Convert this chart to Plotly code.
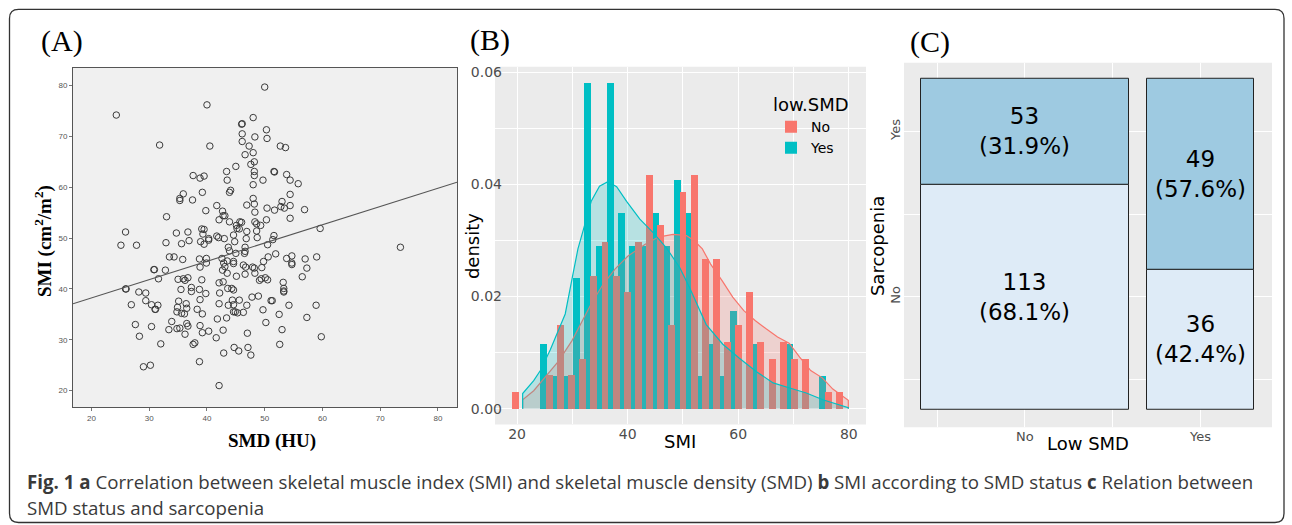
import numpy as np
import plotly.graph_objects as go

W, H = 1292, 525


def fx(p):
    return p / W


def fy(p):
    return 1 - p / H


# ---------------- Panel A : SMD vs SMI scatter ----------------
smd = [24.3, 50.0, 40.0, 46.0, 46.1, 48.0, 50.3, 46.1, 48.3, 50.4, 46.1, 47.3, 31.8, 40.5, 52.7, 53.6,
       48.0, 46.6, 47.6, 48.2, 45.0, 43.4, 51.6, 51.7, 48.2, 48.2, 37.6, 39.5, 38.8, 43.5, 49.7, 53.8,
       54.4, 55.8, 48.0, 44.1, 43.9, 39.2, 35.9, 35.3, 35.3, 37.5, 48.0, 54.4, 53.0, 48.2, 46.9, 41.7,
       54.4, 52.8, 50.4, 51.7, 53.4, 56.9, 39.8, 42.7, 48.3, 42.8, 43.1, 33.0, 54.4, 42.1, 43.9, 50.3,
       45.7, 46.0, 48.3, 48.6, 45.1, 45.2, 45.6, 39.1, 39.5, 49.3, 25.9, 36.7, 46.9, 48.6, 34.7, 59.6,
       39.3, 41.7, 44.6, 51.6, 40.3, 42.0, 43.0, 48.7, 46.8, 51.4, 36.9, 40.3, 38.9, 44.8, 25.1, 27.8,
       32.9, 35.6, 39.5, 50.5, 43.7, 46.6, 73.5, 43.9, 46.6, 45.0, 46.5, 51.9, 33.5, 34.3, 42.6, 50.6,
       54.7, 59.0, 35.8, 38.7, 39.9, 53.8, 57.0, 43.5, 44.6, 49.8, 42.9, 39.9, 54.7, 54.7, 38.8, 44.6,
       30.8, 30.9, 32.8, 46.3, 46.7, 47.9, 48.2, 49.5, 57.3, 42.7, 43.1, 43.5, 48.3, 46.6, 45.1, 31.6,
       35.0, 35.9, 36.7, 36.2, 39.1, 49.1, 49.4, 50.1, 50.5, 56.5, 53.2, 42.1, 42.8, 25.9, 26.0, 35.5,
       37.3, 38.7, 43.6, 44.3, 44.6, 53.3, 53.3, 28.2, 29.4, 37.3, 39.8, 42.2, 53.3, 38.8, 29.4, 35.1,
       44.4, 45.6, 47.8, 48.9, 51.1, 51.3, 26.9, 30.4, 31.5, 31.0, 31.1, 34.9, 36.4, 42.1, 43.7, 44.6,
       46.9, 54.2, 58.9, 36.5, 38.3, 49.7, 34.8, 35.6, 36.1, 39.2, 44.6, 44.9, 45.3, 46.3, 52.5, 57.3,
       41.8, 43.4, 33.9, 50.2, 27.6, 36.5, 36.7, 38.8, 30.4, 33.4, 34.8, 35.3, 53.0, 42.8, 39.2, 40.3,
       47.0, 36.2, 28.3, 59.8, 41.6, 32.0, 37.6, 37.9, 52.6, 44.7, 47.1, 45.5, 42.9, 47.6, 38.7, 29.0,
       30.2, 42.1]
smi = [74.2, 79.7, 76.2, 72.4, 72.5, 73.7, 71.3, 70.5, 69.9, 69.6, 69.0, 68.1, 68.3, 68.1, 68.1, 67.8,
       66.8, 66.4, 64.5, 65.0, 64.1, 63.1, 63.1, 63.0, 63.1, 62.3, 62.3, 62.2, 61.8, 61.4, 61.4, 62.5,
       61.4, 60.7, 60.5, 59.4, 59.0, 59.0, 58.7, 57.8, 57.4, 57.5, 57.8, 58.6, 57.2, 56.7, 56.5, 56.4,
       56.4, 56.2, 55.9, 55.5, 55.9, 55.6, 55.4, 55.3, 55.1, 54.4, 54.4, 54.2, 53.9, 53.6, 53.2, 53.6,
       53.2, 53.1, 53.2, 52.8, 52.5, 51.9, 51.8, 51.8, 51.7, 52.5, 51.2, 51.2, 51.3, 51.4, 51.0, 51.9,
       50.8, 50.4, 50.6, 50.5, 49.9, 50.1, 49.9, 50.1, 49.9, 49.7, 49.5, 49.6, 49.3, 49.3, 48.6, 48.6,
       49.1, 48.9, 48.8, 48.7, 48.2, 48.2, 48.2, 47.5, 47.4, 47.0, 47.0, 46.9, 46.3, 46.3, 46.0, 46.3,
       46.5, 46.3, 45.8, 45.9, 46.0, 46.0, 45.9, 45.5, 45.4, 45.4, 45.1, 45.1, 45.1, 44.8, 44.3, 45.0,
       43.8, 43.8, 43.7, 44.7, 44.3, 44.3, 44.1, 44.2, 44.1, 43.7, 44.4, 43.1, 43.1, 42.9, 42.5, 42.0,
       41.9, 42.0, 42.2, 41.7, 41.8, 41.7, 42.0, 42.2, 41.8, 42.4, 41.3, 41.2, 41.4, 40.0, 40.0, 39.9,
       40.3, 39.9, 40.1, 40.1, 39.8, 40.1, 39.6, 39.4, 39.2, 39.5, 39.1, 39.2, 39.4, 37.9, 37.7, 37.6,
       37.8, 37.8, 38.4, 38.6, 37.7, 37.7, 36.9, 36.9, 36.8, 36.0, 36.0, 36.4, 37.1, 37.1, 36.8, 36.9,
       36.8, 36.8, 36.8, 36.2, 36.0, 35.9, 35.5, 35.2, 35.1, 35.1, 35.5, 35.5, 35.3, 35.4, 35.0, 34.4,
       34.1, 34.3, 33.6, 33.4, 33.0, 33.2, 32.7, 32.8, 32.6, 32.0, 32.2, 32.3, 32.0, 31.9, 31.4, 31.7,
       31.3, 31.1, 30.7, 30.6, 30.4, 29.2, 29.1, 29.4, 29.1, 28.5, 28.5, 27.8, 27.4, 27.0, 25.7, 24.7,
       25.0, 21.0]
reg_intercept = 31.06
reg_slope = 0.3594
a_xticks = [20, 30, 40, 50, 60, 70, 80]
a_yticks = [20, 30, 40, 50, 60, 70, 80]

# ---------------- Panel B : SMI histogram / density by low SMD ----------------
bin_centers = [19.2, 21.2, 23.2, 25.3, 27.3, 29.3, 31.3, 33.3, 35.4, 37.4, 39.4, 41.4, 43.4, 45.5, 47.5,
               49.5, 51.5, 53.5, 55.6, 57.6, 59.6, 61.6, 63.6, 65.7, 67.7, 69.7, 71.7, 73.7, 75.8, 77.8]
dens_no = [0.0030, 0, 0, 0.0060, 0.0149, 0.0060, 0.0089, 0.0238, 0.0298, 0.0238, 0.0209, 0.0298, 0.0417,
           0.0328, 0.0149, 0.0387, 0.0417, 0.0268, 0.0268, 0.0119, 0.0149, 0.0209, 0.0119, 0.0089, 0.0119,
           0.0089, 0.0089, 0, 0.0030, 0.0030]
dens_yes = [0, 0, 0, 0.0116, 0.0058, 0.0058, 0.0233, 0.0582, 0.0291, 0.0582, 0.0349, 0.0291, 0.0291,
            0.0349, 0.0291, 0.0408, 0.0349, 0.0058, 0.0116, 0.0058, 0.0175, 0, 0.0116, 0, 0, 0.0116, 0, 0,
            0.0058, 0]
kde_no_x = [21.0, 23.0, 25.0, 27.5, 29.9, 31.7, 33.5, 35.5, 37.7, 40.0, 43.1, 45.5, 48.2, 50.6, 52.0,
            53.5, 55.0, 57.1, 59.0, 61.0, 63.1, 65.1, 67.1, 69.2, 71.1, 73.1, 75.2, 77.1, 79.4, 79.9]
kde_no_y = [0.0016, 0.0032, 0.0056, 0.0085, 0.0121, 0.0155, 0.0189, 0.0221, 0.0249, 0.0272, 0.0293,
            0.0306, 0.0311, 0.0309, 0.0300, 0.0285, 0.0258, 0.0228, 0.0199, 0.0175, 0.0157, 0.0142,
            0.0128, 0.0117, 0.0092, 0.0068, 0.0055, 0.0035, 0.0018, 0.0015]
kde_yes_x = [21.0, 23.0, 24.2, 26.0, 27.5, 28.7, 30.0, 31.0, 32.0, 33.4, 34.9, 36.4, 38.0, 39.8, 42.2,
             44.6, 47.0, 49.4, 51.1, 52.6, 54.2, 57.2, 60.2, 63.3, 66.3, 69.3, 72.3, 75.3, 77.5, 79.9]
kde_yes_y = [0.0027, 0.0050, 0.0068, 0.0105, 0.0140, 0.0169, 0.0235, 0.0285, 0.0320, 0.0370, 0.0397,
             0.0405, 0.0396, 0.0370, 0.0338, 0.0314, 0.0287, 0.0252, 0.0218, 0.0185, 0.0150, 0.0115,
             0.0090, 0.0066, 0.0046, 0.0037, 0.0028, 0.0016, 0.0009, 0.0002]
b_xticks = [20, 40, 60, 80]
b_xminor = [30, 50, 70]
b_yticks = [0.00, 0.02, 0.04, 0.06]
b_yminor = [0.01, 0.03, 0.05]

# ---------------- Panel C : mosaic Low SMD x Sarcopenia ----------------
low_smd = ["No", "Yes"]
sarcopenia = ["No", "Yes"]
sarc_no = [113, 36]
sarc_yes = [53, 49]

RED, CYAN = "#F8766D", "#00BFC4"
SANS = "DejaVu Sans"
SERIF = "Liberation Serif"
TICK_GRAY = "#4D4D4D"

fig = go.Figure()

# ---- Panel A traces
fig.add_trace(go.Scatter(
    x=smd, y=smi, mode="markers", xaxis="x", yaxis="y", showlegend=False,
    marker=dict(symbol="circle-open", size=6.5, color="#3A3A3A", line=dict(width=1)),
    hoverinfo="skip"))
A_XR = [16.8, 83.3]
A_YR = [16.7, 83.5]
reg_x = np.array(A_XR)
fig.add_trace(go.Scatter(
    x=reg_x, y=reg_intercept + reg_slope * reg_x, mode="lines", xaxis="x", yaxis="y",
    showlegend=False, line=dict(color="#555555", width=1.1), hoverinfo="skip"))

# ---- Panel B traces
fig.add_trace(go.Bar(
    x=bin_centers, y=dens_yes, width=1.25, offset=-1.125, xaxis="x2", yaxis="y2",
    name="Yes", legendgroup="Yes", legendrank=2, marker=dict(color=CYAN, line=dict(width=0))))
fig.add_trace(go.Bar(
    x=bin_centers, y=dens_no, width=1.25, offset=-0.125, xaxis="x2", yaxis="y2",
    name="No", legendgroup="No", legendrank=1, marker=dict(color=RED, line=dict(width=0))))
for xs, ys, col, fill in [(kde_no_x, kde_no_y, RED, "rgba(248,118,109,0.22)"),
                          (kde_yes_x, kde_yes_y, CYAN, "rgba(0,191,196,0.22)")]:
    fig.add_trace(go.Scatter(
        x=[xs[0]] + list(xs) + [xs[-1]], y=[0] + list(ys) + [0], mode="lines", fill="toself",
        fillcolor=fill, line=dict(color=col, width=1.2), xaxis="x2", yaxis="y2",
        showlegend=False, hoverinfo="skip"))

# ---- Panel C traces (mosaic)
gap = 0.054
col_tot = np.array(sarc_no) + np.array(sarc_yes)
col_w = (1 - gap) * col_tot / col_tot.sum()
col_x0 = np.array([0.0, col_w[0] + gap])
col_c = col_x0 + col_w / 2
p_no = np.array(sarc_no) / col_tot
p_yes = np.array(sarc_yes) / col_tot

fig.add_trace(go.Bar(
    x=col_c, y=p_no, base=0, width=col_w, xaxis="x3", yaxis="y3", showlegend=False,
    marker=dict(color="#DEEBF7", line=dict(color="#222222", width=1)), hoverinfo="skip"))
fig.add_trace(go.Bar(
    x=col_c, y=p_yes, base=p_no, width=col_w, xaxis="x3", yaxis="y3", showlegend=False,
    marker=dict(color="#9ECAE1", line=dict(color="#222222", width=1)), hoverinfo="skip"))

annotations = []
for i in range(2):
    for cnt, p, base in [(sarc_no[i], p_no[i], 0), (sarc_yes[i], p_yes[i], p_no[i])]:
        ymid = base + p / 2
        annotations.append(dict(x=col_c[i], y=ymid, xref="x3", yref="y3",
                                text="%d<br>(%.1f%%)" % (cnt, 100 * p), showarrow=False,
                                align="center", font=dict(family=SANS, size=23, color="black")))

c_xt = list(col_c)
c_xminor = [c_xt[0] - (c_xt[1] - c_xt[0]) / 2, (c_xt[0] + c_xt[1]) / 2]
c_yt = [p_no[0] / 2, p_no[0] + p_yes[0] / 2]
c_yminor = [c_yt[0] - (c_yt[1] - c_yt[0]) / 2, (c_yt[0] + c_yt[1]) / 2]


def txt(x, y, s, size, family=SANS, angle=0, color="black", xanchor="center", weight=None):
    f = dict(family=family, size=size, color=color)
    if weight:
        f["weight"] = weight
    return dict(x=fx(x), y=fy(y), xref="paper", yref="paper", text=s, showarrow=False,
                textangle=angle, xanchor=xanchor, yanchor="middle", font=f)


annotations += [
    txt(62, 39, "(A)", 30, SERIF),
    txt(490, 38, "(B)", 30, SERIF),
    txt(930, 40, "(C)", 30, SERIF),
    txt(272, 441, "<b>SMD (HU)</b>", 19, SERIF),
    txt(43, 240, "<b>SMI (cm<sup>2</sup>/m<sup>2</sup>)</b>", 19, SERIF, angle=-90),
    txt(472, 245, "density", 18, angle=-90),
    txt(680, 441, "SMI", 18),
    txt(877, 245, "Sarcopenia", 18, angle=-90),
    txt(1088, 443, "Low SMD", 18),
    txt(25, 481, "<b>Fig. 1 a</b> Correlation between skeletal muscle index (SMI) and skeletal muscle "
                 "density (SMD) <b>b</b> SMI according to SMD status <b>c</b> Relation between",
        18.7, "Open Sans", color="#3A3A3A", xanchor="left"),
    txt(25, 507, "SMD status and sarcopenia", 18.7, "Open Sans", color="#3A3A3A", xanchor="left"),
]

# background panels and outer frame
r = 9
x0, y0, x1, y1 = 9.5, 7.5, 1284, 522.5
frame = ("M {a},{b} L {c},{b} Q {d},{b} {d},{e} L {d},{f} Q {d},{g} {c},{g} L {a},{g} "
         "Q {h},{g} {h},{f} L {h},{e} Q {h},{b} {a},{b} Z").format(
    a=fx(x0 + r), b=fy(y0), c=fx(x1 - r), d=fx(x1), e=fy(y0 + r), f=fy(y1 - r), g=fy(y1), h=fx(x0))
shapes = [
    dict(type="rect", xref="x domain", yref="y domain", x0=0, x1=1, y0=0, y1=1,
         fillcolor="#F0F0F0", line=dict(width=0), layer="below"),
    dict(type="rect", xref="x2 domain", yref="y2 domain", x0=0, x1=1, y0=0, y1=1,
         fillcolor="#EBEBEB", line=dict(width=0), layer="below"),
    dict(type="rect", xref="x3 domain", yref="y3 domain", x0=0, x1=1, y0=0, y1=1,
         fillcolor="#EBEBEB", line=dict(width=0), layer="below"),
    dict(type="path", xref="paper", yref="paper", path=frame,
         line=dict(color="#333333", width=1.3)),
]

axA = dict(showgrid=False, zeroline=False, showline=True, mirror=True, linecolor="#555555",
           linewidth=1, ticks="outside", ticklen=3, tickcolor="#777777",
           tickfont=dict(family="Liberation Sans", size=8, color="#555555"))
gridB = dict(showgrid=True, gridcolor="white", gridwidth=1.3, zeroline=False, showline=False,
             ticks="", tickfont=dict(family=SANS, size=14, color=TICK_GRAY))

fig.update_layout(
    width=W, height=H, autosize=False,
    margin=dict(l=0, r=0, t=0, b=0),
    paper_bgcolor="white", plot_bgcolor="white",
    barmode="overlay", bargap=0,
    font=dict(family=SANS),
    showlegend=True,
    legend=dict(x=fx(771), y=fy(86), xanchor="left", yanchor="top", bgcolor="rgba(0,0,0,0)",
                title=dict(text="low.SMD", font=dict(family=SANS, size=18, color="black")),
                font=dict(family=SANS, size=14, color="black"), tracegroupgap=12,
                traceorder="normal"),
    xaxis=dict(domain=[fx(73), fx(457)], range=A_XR, anchor="y", tickvals=a_xticks, **axA),
    yaxis=dict(domain=[fy(407), fy(66)], range=A_YR, anchor="x", tickvals=a_yticks, **axA),
    xaxis2=dict(domain=[fx(495), fx(866)], range=[16.0, 83.1], anchor="y2", tickvals=b_xticks,
                minor=dict(tickvals=b_xminor, showgrid=True, gridcolor="white", gridwidth=0.6),
                **gridB),
    yaxis2=dict(domain=[fy(424), fy(65)], range=[-0.0028, 0.061], anchor="x2", tickvals=b_yticks,
                tickformat=".2f", ticklabelstandoff=-8,
                minor=dict(tickvals=b_yminor, showgrid=True, gridcolor="white", gridwidth=0.6),
                **gridB),
    xaxis3=dict(domain=[fx(904), fx(1272)], range=[-0.05, 1.054], anchor="y3", tickvals=c_xt,
                ticktext=low_smd,
                minor=dict(tickvals=c_xminor, showgrid=True, gridcolor="white", gridwidth=0.6),
                **{**gridB, "tickfont": dict(family=SANS, size=13, color=TICK_GRAY)}),
    yaxis3=dict(domain=[fy(427), fy(61)], range=[-0.054, 1.048], anchor="x3", tickvals=c_yt,
                ticktext=sarcopenia, tickangle=-90,
                minor=dict(tickvals=c_yminor, showgrid=True, gridcolor="white", gridwidth=0.6),
                **{**gridB, "tickfont": dict(family=SANS, size=13, color=TICK_GRAY)}),
    annotations=annotations,
    shapes=shapes,
)

fig.write_html("out.html")
